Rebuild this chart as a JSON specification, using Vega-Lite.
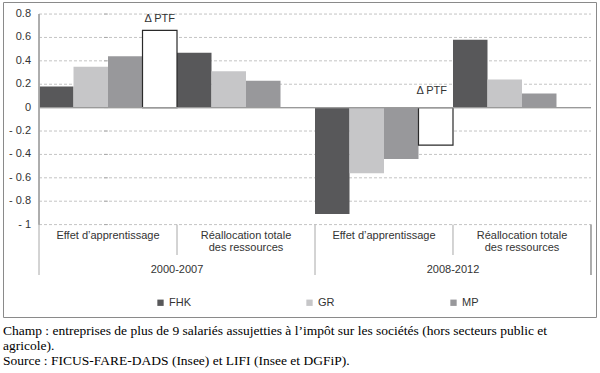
{
  "$schema": "https://vega.github.io/schema/vega-lite/v6.json",
  "width": 593,
  "height": 315,
  "autosize": {"type": "none"},
  "padding": {"left": 3, "top": 2, "right": 4, "bottom": 56},
  "background": "#ffffff",
  "config": {
    "font": "Liberation Sans",
    "view": {"stroke": "#8a8a8a", "strokeWidth": 1},
    "text": {"font": "Liberation Sans", "fontSize": 11, "color": "#333333"}
  },
  "title": {
    "text": [
      "Champ : entreprises de plus de 9 salariés assujetties à l’impôt sur les sociétés (hors secteurs public et",
      "agricole).",
      "Source : FICUS-FARE-DADS (Insee) et LIFI (Insee et DGFiP)."
    ],
    "orient": "bottom",
    "anchor": "start",
    "frame": "group",
    "font": "Liberation Serif",
    "fontSize": 13.5,
    "fontWeight": "normal",
    "color": "#000000",
    "lineHeight": 15,
    "offset": 7
  },
  "datasets": {
    "bars": [
      {"group": "2000-2007|Effet d’apprentissage", "series": "FHK", "value": 0.18},
      {"group": "2000-2007|Effet d’apprentissage", "series": "GR", "value": 0.35},
      {"group": "2000-2007|Effet d’apprentissage", "series": "MP", "value": 0.44},
      {"group": "2000-2007|Effet d’apprentissage", "series": "PTF", "value": 0.66},
      {"group": "2000-2007|Réallocation totale des ressources", "series": "FHK", "value": 0.47},
      {"group": "2000-2007|Réallocation totale des ressources", "series": "GR", "value": 0.31},
      {"group": "2000-2007|Réallocation totale des ressources", "series": "MP", "value": 0.23},
      {"group": "2008-2012|Effet d’apprentissage", "series": "FHK", "value": -0.91},
      {"group": "2008-2012|Effet d’apprentissage", "series": "GR", "value": -0.56},
      {"group": "2008-2012|Effet d’apprentissage", "series": "MP", "value": -0.44},
      {"group": "2008-2012|Effet d’apprentissage", "series": "PTF", "value": -0.32},
      {"group": "2008-2012|Réallocation totale des ressources", "series": "FHK", "value": 0.58},
      {"group": "2008-2012|Réallocation totale des ressources", "series": "GR", "value": 0.24},
      {"group": "2008-2012|Réallocation totale des ressources", "series": "MP", "value": 0.12}
    ],
    "groups": [
      {"group": "2000-2007|Effet d’apprentissage", "period": "2000-2007", "kind": "effet", "label": "Effet d’apprentissage"},
      {"group": "2000-2007|Réallocation totale des ressources", "period": "2000-2007", "kind": "realloc", "label": "Réallocation totale\ndes ressources"},
      {"group": "2008-2012|Effet d’apprentissage", "period": "2008-2012", "kind": "effet", "label": "Effet d’apprentissage"},
      {"group": "2008-2012|Réallocation totale des ressources", "period": "2008-2012", "kind": "realloc", "label": "Réallocation totale\ndes ressources"}
    ],
    "ticks": [
      {"v": -1, "label": "- 1"}, {"v": -0.8, "label": "- 0.8"}, {"v": -0.6, "label": "- 0.6"},
      {"v": -0.4, "label": "- 0.4"}, {"v": -0.2, "label": "- 0.2"}, {"v": 0, "label": "0"},
      {"v": 0.2, "label": "0.2"}, {"v": 0.4, "label": "0.4"}, {"v": 0.6, "label": "0.6"},
      {"v": 0.8, "label": "0.8"}
    ]
  },
  "layer": [
    {
      "data": {"name": "ticks"},
      "transform": [{"filter": "datum.v != 0"}],
      "mark": {"type": "rule", "color": "#c4c4c4", "strokeDash": [3, 2], "strokeWidth": 1},
      "encoding": {
        "x": {"datum": "2000-2007|Effet d’apprentissage", "bandPosition": 0,
          "scale": {
            "domain": [
              "2000-2007|Effet d’apprentissage",
              "2000-2007|Réallocation totale des ressources",
              "2008-2012|Effet d’apprentissage",
              "2008-2012|Réallocation totale des ressources"
            ],
            "paddingInner": 0, "paddingOuter": 0.1486, "align": 0.878
          },
          "axis": null
        },
        "x2": {"datum": "2008-2012|Réallocation totale des ressources", "bandPosition": 1},
        "y": {
          "field": "v", "type": "quantitative",
          "scale": {"domain": [-1.79, 0.903], "nice": false, "zero": false},
          "axis": null
        }
      }
    },
    {
      "data": {"name": "ticks"},
      "mark": {"type": "tick", "orient": "horizontal", "color": "#9a9a9a", "size": 4, "thickness": 1, "xOffset": -2},
      "encoding": {
        "x": {"datum": "2000-2007|Effet d’apprentissage", "bandPosition": 0},
        "y": {"field": "v", "type": "quantitative"}
      }
    },
    {
      "data": {"name": "ticks"},
      "mark": {"type": "text", "align": "right", "baseline": "middle", "dx": -8, "fontSize": 11, "color": "#333333"},
      "encoding": {
        "x": {"datum": "2000-2007|Effet d’apprentissage", "bandPosition": 0},
        "y": {"field": "v", "type": "quantitative"},
        "text": {"field": "label"}
      }
    },
    {
      "data": {"name": "bars"},
      "transform": [{"filter": "datum.series != 'PTF'"}],
      "mark": {"type": "bar"},
      "encoding": {
        "x": {"field": "group", "type": "nominal"},
        "xOffset": {"field": "series", "type": "nominal",
          "scale": {"domain": ["FHK", "GR", "MP", "PTF"], "paddingInner": 0, "paddingOuter": 0}},
        "y": {"field": "value", "type": "quantitative"},
        "y2": {"datum": 0},
        "color": {
          "field": "series", "type": "nominal",
          "scale": {"domain": ["FHK", "GR", "MP"], "range": ["#58585a", "#c6c6c8", "#98989b"]},
          "legend": {
            "orient": "none", "legendX": 152, "legendY": 295,
            "direction": "horizontal", "columns": 3, "columnPadding": 113,
            "gridAlign": "each", "title": null, "padding": 0,
            "symbolType": "square", "symbolSize": 40, "symbolStrokeWidth": 0,
            "symbolOpacity": 1,
            "labelFont": "Liberation Sans", "labelFontSize": 11, "labelColor": "#333333",
            "labelOffset": 3
          }
        }
      }
    },
    {
      "data": {"name": "bars"},
      "transform": [{"filter": "datum.series == 'PTF'"}],
      "mark": {"type": "bar", "fill": "#ffffff", "stroke": "#2a2a2a", "strokeWidth": 1.2},
      "encoding": {
        "x": {"field": "group", "type": "nominal"},
        "xOffset": {"field": "series", "type": "nominal"},
        "y": {"field": "value", "type": "quantitative"},
        "y2": {"datum": 0}
      }
    },
    {
      "data": {"name": "groups"},
      "mark": {"type": "rule", "color": "#9a9a9a", "strokeWidth": 1},
      "encoding": {
        "x": {"datum": "2000-2007|Effet d’apprentissage", "bandPosition": 0},
        "x2": {"datum": "2008-2012|Réallocation totale des ressources", "bandPosition": 1},
        "y": {"datum": 0}
      }
    },
    {
      "data": {"name": "groups"},
      "mark": {"type": "rule", "color": "#a8a8a8", "strokeWidth": 1},
      "encoding": {
        "x": {"datum": "2000-2007|Effet d’apprentissage", "bandPosition": 0},
        "y": {"datum": 0.8},
        "y2": {"datum": -1}
      }
    },
    {
      "data": {"name": "groups"},
      "transform": [{"filter": "datum.kind == 'effet'"}],
      "mark": {"type": "rule", "color": "#a8a8a8", "strokeWidth": 1},
      "encoding": {
        "x": {"field": "group", "type": "nominal", "bandPosition": 0},
        "y": {"datum": -1},
        "y2": {"datum": -1.431}
      }
    },
    {
      "data": {"name": "groups"},
      "transform": [{"filter": "datum.kind == 'realloc'"}],
      "mark": {"type": "rule", "color": "#a8a8a8", "strokeWidth": 1},
      "encoding": {
        "x": {"field": "group", "type": "nominal", "bandPosition": 0},
        "y": {"datum": -1},
        "y2": {"datum": -1.26}
      }
    },
    {
      "data": {"name": "groups"},
      "mark": {"type": "rule", "color": "#a8a8a8", "strokeWidth": 1},
      "encoding": {
        "x": {"datum": "2008-2012|Réallocation totale des ressources", "bandPosition": 1},
        "y": {"datum": -1},
        "y2": {"datum": -1.431}
      }
    },
    {
      "data": {"name": "groups"},
      "mark": {"type": "text", "baseline": "top", "align": "center", "lineBreak": "\n", "lineHeight": 12.5},
      "encoding": {
        "x": {"field": "group", "type": "nominal"},
        "y": {"datum": -1.042},
        "text": {"field": "label"}
      }
    },
    {
      "data": {"name": "groups"},
      "transform": [{"filter": "datum.kind == 'realloc'"}],
      "mark": {"type": "text", "baseline": "middle", "align": "center"},
      "encoding": {
        "x": {"field": "group", "type": "nominal", "bandPosition": 0},
        "y": {"datum": -1.388},
        "text": {"field": "period"}
      }
    },
    {
      "data": {"name": "bars"},
      "transform": [{"filter": "datum.series == 'PTF' && datum.value > 0"}],
      "mark": {"type": "text", "baseline": "bottom", "align": "center", "dy": -6},
      "encoding": {
        "x": {"field": "group", "type": "nominal"},
        "xOffset": {"field": "series", "type": "nominal"},
        "y": {"field": "value", "type": "quantitative"},
        "text": {"value": "Δ PTF"}
      }
    },
    {
      "data": {"name": "bars"},
      "transform": [{"filter": "datum.series == 'PTF' && datum.value < 0"}],
      "mark": {"type": "text", "baseline": "bottom", "align": "center", "dy": -12, "dx": -4},
      "encoding": {
        "x": {"field": "group", "type": "nominal"},
        "xOffset": {"field": "series", "type": "nominal"},
        "y": {"datum": 0},
        "text": {"value": "Δ PTF"}
      }
    }
  ]
}
